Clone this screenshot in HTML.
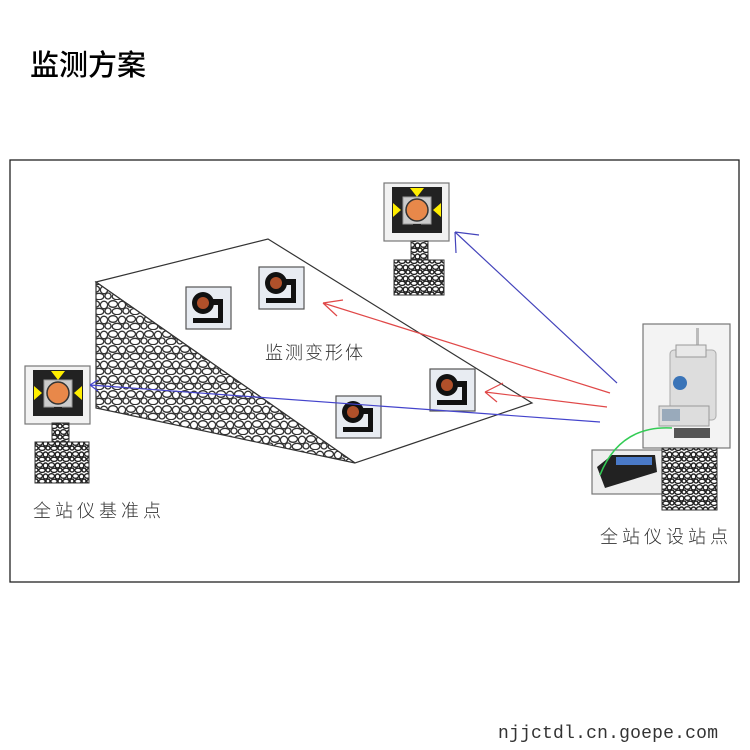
<!DOCTYPE html>
<html><head><meta charset="utf-8"><style>
html,body{margin:0;padding:0;background:#fff;}
svg{display:block;}
text{font-family:"Liberation Sans","Noto Sans CJK SC",sans-serif;}
</style></head><body>
<svg width="750" height="750" viewBox="0 0 750 750" xmlns="http://www.w3.org/2000/svg">
<defs>
<pattern id="rock" width="18" height="15" patternUnits="userSpaceOnUse">
<rect width="18" height="15" fill="#fff"/>
<g fill="#fff" stroke="#333" stroke-width="1.3">
<ellipse cx="5" cy="4" rx="4.5" ry="3.3"/>
<ellipse cx="14" cy="5" rx="3.6" ry="3.8"/>
<ellipse cx="9" cy="11.5" rx="4.8" ry="3.2"/>
<ellipse cx="0" cy="11" rx="3" ry="3"/>
<ellipse cx="18" cy="11" rx="3" ry="3"/>
</g>
</pattern>
<pattern id="rock2" width="12" height="11" patternUnits="userSpaceOnUse">
<rect width="12" height="11" fill="#fff"/>
<g fill="#fff" stroke="#222" stroke-width="1.4">
<ellipse cx="3.5" cy="3" rx="3" ry="2.3"/>
<ellipse cx="9.5" cy="3.5" rx="2.3" ry="2.5"/>
<ellipse cx="6" cy="8.3" rx="3.2" ry="2.1"/>
<ellipse cx="0" cy="8" rx="2" ry="2"/>
<ellipse cx="12" cy="8" rx="2" ry="2"/>
</g>
</pattern>
<g id="bigprism">
<rect x="0" y="0" width="65" height="58" fill="#f2f2f2" stroke="#777" stroke-width="1.2"/>
<rect x="8" y="4" width="50" height="46" fill="#222"/>
<polygon points="26,5 40,5 33,14" fill="#ffee00"/>
<polygon points="9,20 9,34 17,27" fill="#ffee00"/>
<polygon points="57,20 57,34 49,27" fill="#ffee00"/>
<rect x="19" y="14" width="28" height="27" fill="#ccc" stroke="#999"/>
<circle cx="33" cy="27" r="11" fill="#e8884a" stroke="#333" stroke-width="1.5"/>
<rect x="29" y="41" width="8" height="9" fill="#222"/>
</g>
<g id="smallprism">
<rect x="0" y="0" width="45" height="42" fill="#e8ecf2" stroke="#555" stroke-width="1.2"/>
<circle cx="17" cy="16" r="11" fill="#111"/>
<circle cx="17" cy="16" r="6" fill="#b0502a"/>
<rect x="26" y="12" width="10" height="6" fill="#111"/>
<rect x="32" y="12" width="5" height="23" fill="#111"/>
<rect x="7" y="31" width="30" height="5" fill="#111"/>
</g>
</defs>

<text x="30" y="75" font-size="29" fill="#000" style="font-family:'Noto Sans CJK SC',sans-serif;font-weight:500">监测方案</text>

<rect x="10" y="160" width="729" height="422" fill="#fff" stroke="#222" stroke-width="1.3"/>

<polygon points="96,282 268,239 532,403 355,463" fill="#fff" stroke="#333" stroke-width="1.2"/>
<polygon points="96,282 96,408 355,463" fill="url(#rock)" stroke="#333" stroke-width="1.2"/>

<use href="#smallprism" x="186" y="287"/>
<use href="#smallprism" x="259" y="267"/>
<use href="#smallprism" x="336" y="396"/>
<use href="#smallprism" x="430" y="369"/>

<text x="265" y="359" font-size="18" fill="#333" letter-spacing="2" style="font-family:'Noto Sans CJK SC',sans-serif;font-weight:300">监测变形体</text>

<use href="#bigprism" x="25" y="366"/>
<rect x="52" y="423" width="17" height="20" fill="url(#rock2)" stroke="#333"/>
<rect x="35" y="442" width="54" height="41" fill="url(#rock2)" stroke="#333"/>
<text x="33" y="517" font-size="18" fill="#333" letter-spacing="4" style="font-family:'Noto Sans CJK SC',sans-serif;font-weight:300">全站仪基准点</text>

<use href="#bigprism" x="384" y="183"/>
<rect x="411" y="241" width="17" height="21" fill="url(#rock2)" stroke="#333"/>
<rect x="394" y="260" width="50" height="35" fill="url(#rock2)" stroke="#333"/>

<g fill="none" stroke-width="1.2">
<path d="M617,383 L455,232 M455,232 L479,235 M455,232 L456,253" stroke="#4444bb"/>
<path d="M610,393 L323,303 M323,303 L343,300 M323,303 L337,316" stroke="#e04848"/>
<path d="M607,407 L485,392 M485,392 L503,383 M485,392 L497,402" stroke="#e04848"/>
<path d="M600,422 L90,385 M90,385 L98,380 M90,385 L98,391" stroke="#4444cc"/>
</g>

<rect x="643" y="324" width="87" height="124" fill="#f3f3f3" stroke="#777" stroke-width="1.2"/>
<rect x="696" y="328" width="3" height="30" fill="#bbb"/>
<rect x="670" y="350" width="46" height="70" rx="4" fill="#ddd" stroke="#aaa"/>
<rect x="676" y="345" width="30" height="12" fill="#e8e8e8" stroke="#999"/>
<circle cx="680" cy="383" r="7" fill="#3a74b8"/>
<rect x="659" y="406" width="50" height="20" fill="#ddd" stroke="#999"/>
<rect x="662" y="409" width="18" height="12" fill="#9ab"/>
<rect x="674" y="428" width="36" height="10" fill="#555"/>
<rect x="592" y="450" width="73" height="44" fill="#eee" stroke="#777" stroke-width="1.2"/>
<polygon points="597,467 612,455 655,455 657,472 605,488" fill="#222"/>
<rect x="616" y="457" width="36" height="8" fill="#4a7ac8"/>
<rect x="662" y="448" width="55" height="62" fill="url(#rock2)" stroke="#333"/>
<path d="M600,475 Q620,425 672,428" fill="none" stroke="#33cc55" stroke-width="1.5"/>
<text x="600" y="543" font-size="18" fill="#333" letter-spacing="4" style="font-family:'Noto Sans CJK SC',sans-serif;font-weight:300">全站仪设站点</text>

<text x="498" y="738" font-size="18" fill="#333" style="font-family:'Liberation Mono',monospace" textLength="220">njjctdl.cn.goepe.com</text>
</svg>
</body></html>
